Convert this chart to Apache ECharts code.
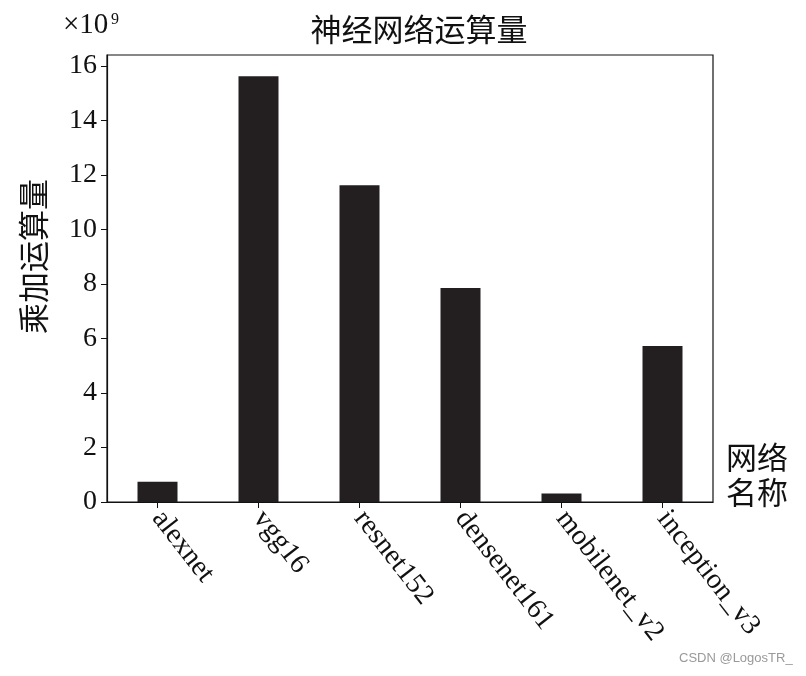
<!DOCTYPE html>
<html>
<head>
<meta charset="utf-8">
<script src="https://cdn.jsdelivr.net/npm/echarts@6/dist/echarts.min.js"></script>
<style>html,body{margin:0;padding:0;background:#fff}#c{width:806px;height:676px}</style>
</head>
<body>
<div id="c"></div>
<script>
var categories = ['alexnet', 'vgg16', 'resnet152', 'densenet161', 'mobilenet_v2', 'inception_v3'];
var macs = [0.74, 15.62, 11.62, 7.85, 0.31, 5.72];
var yTicks = [0, 2, 4, 6, 8, 10, 12, 14, 16];

var serif = '"Liberation Serif", "Noto Sans CJK SC", serif';
var cjk = '"Noto Sans CJK SC", sans-serif';
var chart = echarts.init(document.getElementById('c'), null, {renderer: 'canvas'});
chart.setOption({
  animation: false,
  backgroundColor: '#fff',
  title: {
    text: '神经网络运算量',
    left: 414, top: 9, textAlign: 'center',
    textStyle: {fontFamily: cjk, fontSize: 31, fontWeight: 'normal', color: '#111'}
  },
  grid: {left: 107, right: 93, top: 55, bottom: 174, show: true, borderColor: '#111', borderWidth: 1.2, containLabel: false, outerBoundsMode: 'none'},
  xAxis: {
    type: 'category',
    data: categories,
    boundaryGap: true,
    axisLine: {show: true, lineStyle: {color: '#111', width: 1.2}},
    axisTick: {show: true, alignWithLabel: true, length: 6, lineStyle: {color: '#111'}},
    axisLabel: {rotate: -52, fontFamily: serif, fontSize: 28.5, color: '#111', margin: 12, interval: 0},
    splitLine: {show: false}
  },
  yAxis: {
    type: 'value',
    min: 0, max: 16.4, interval: 2,
    name: '乘加运算量',
    nameLocation: 'middle',
    nameRotate: 90,
    nameGap: 58,
    nameTextStyle: {fontFamily: cjk, fontSize: 31, color: '#111', padding: [0, 0, 0, 44]},
    axisLine: {show: true, lineStyle: {color: '#111', width: 1.2}},
    axisTick: {show: true, length: 6, lineStyle: {color: '#111'}, customValues: yTicks},
    axisLabel: {fontFamily: serif, fontSize: 28, color: '#111', margin: 10, customValues: yTicks},
    splitLine: {show: false}
  },
  series: [{
    type: 'bar',
    data: macs,
    barWidth: 40,
    itemStyle: {color: '#231f20'}
  }],
  graphic: [
    {type: 'text', left: 63, top: 11, style: {text: '×10', font: '29px "Liberation Serif"', fill: '#111'}},
    {type: 'text', left: 111, top: 12, style: {text: '9', font: '16px "Liberation Serif"', fill: '#111'}},
    {type: 'text', left: 726, top: 440, style: {text: '网络\n名称', font: '31px "Noto Sans CJK SC"', lineHeight: 35, fill: '#111'}},
    {type: 'text', left: 679, top: 652, style: {text: 'CSDN @LogosTR_', font: '13px "Liberation Sans", sans-serif', fill: '#999'}}
  ]
});
</script>
</body>
</html>
